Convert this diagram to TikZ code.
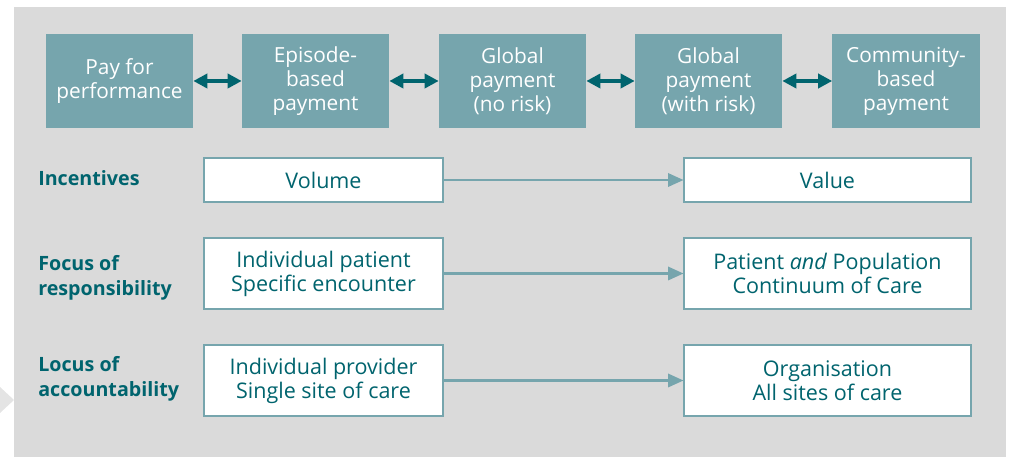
\documentclass[tikz,border=0pt]{standalone}
\usepackage{fontspec}
\setmainfont{Open Sans}
\usetikzlibrary{arrows.meta}

\definecolor{tealbox}{HTML}{76A5AD}
\definecolor{tealdark}{HTML}{00646E}
\definecolor{panel}{HTML}{DADADA}
\definecolor{tab}{HTML}{E4E4E4}

\begin{document}
\begin{tikzpicture}[x=0.025cm, y=-0.025cm,
    pay/.style={rectangle, fill=tealbox, text=white, inner sep=0pt, minimum width=3.675cm, minimum height=2.325cm, align=center, font=\fontsize{14.8}{17}\selectfont},
    shift box/.style={rectangle, draw=tealbox, line width=1.4pt, fill=white, text=tealdark, inner sep=0pt, align=center, font=\fontsize{15.3}{17}\selectfont},
    row/.style={anchor=west, text=tealdark, align=left, inner sep=0pt, font=\fontsize{14}{17.7}\bfseries\selectfont},
    both/.style={line width=2.6pt, tealdark, {Triangle[length=10pt,width=10pt]}-{Triangle[length=10pt,width=10pt]}},
    move/.style={line width=1.6pt, tealbox, -{Triangle[length=11pt,width=9.5pt]}}]
    \useasboundingbox (0,0) rectangle (1011,457);
    \fill[panel] (14,7) rectangle (1006,457);
    \fill[tab] (0,387) -- (14,400) -- (0,413) -- cycle;

    \node[pay] (1) at (119.5,81) {Pay for\\performance};
    \node[pay] (2) at (315.5,81) {Episode-\\based\\payment};
    \node[pay] (3) at (512.5,81) {Global\\payment\\(no risk)};
    \node[pay] (4) at (708.5,81) {Global\\payment\\(with risk)};
    \node[pay] (5) at (906,81) {Community-\\based\\payment};

    \draw[both] (1) -- (2);
    \draw[both] (2) -- (3);
    \draw[both] (3) -- (4);
    \draw[both] (4) -- (5);

    \node[row] (i) at (38,178) {Incentives};
    \node[row] (f) at (38,278) {Focus of\\responsibility};
    \node[row] (l) at (38,379) {Locus of\\accountability};

    \node[shift box, minimum width=5.975cm, minimum height=1.1cm] (a1) at (323.5,180) {Volume};
    \node[shift box, minimum width=7.15cm, minimum height=1.1cm] (b1) at (827.5,180) {Value};
    \node[shift box, minimum width=5.975cm, minimum height=1.775cm] (a2) at (323.5,273.5) {Individual patient\\Specific encounter};
    \node[shift box, minimum width=7.15cm, minimum height=1.775cm] (b2) at (827.5,273.5) {Patient \textit{and} Population\\Continuum of Care};
    \node[shift box, minimum width=5.975cm, minimum height=1.775cm] (a3) at (323.5,380.5) {Individual provider\\Single site of care};
    \node[shift box, minimum width=7.15cm, minimum height=1.775cm] (b3) at (827.5,380.5) {Organisation\\All sites of care};

    \draw[move] (a1) -- (b1);
    \draw[move] (a2) -- (b2);
    \draw[move] (a3) -- (b3);
  \end{tikzpicture}
\end{document}
